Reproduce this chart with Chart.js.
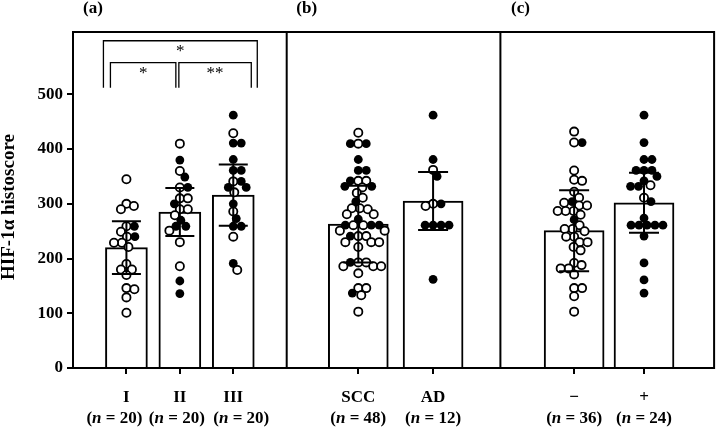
<!DOCTYPE html>
<html>
<head>
<meta charset="utf-8">
<script src="https://cdn.jsdelivr.net/npm/chart.js@4.4.1/dist/chart.umd.min.js"></script>
<style>
  html, body { margin: 0; padding: 0; background: #fff; }
  #wrap { width: 720px; height: 430px; position: relative; }
</style>
</head>
<body>
<div id="wrap"><canvas id="mycanvas"></canvas></div>
<script>
// groups: (a) stage I-III, (b) histology, (c) status
var groupLabels = ['I', 'II', 'III', 'SCC', 'AD', '\u2212', '+'];
var groupN = [20, 20, 20, 48, 12, 36, 24];
var groupPos = [0.25, 0.5, 0.75, 1.335, 1.685, 2.345, 2.672]; // one panel = 1 x unit
var panelLabels = ['(a)', '(b)', '(c)'];
var yTitle = 'HIF-1\u03b1 histoscore';

// bar = mean, whisker = SD
var means = [220, 285, 316, 263, 305, 251, 302];
var sds = [48, 44, 56, 70, 53, 74, 55];

// individual histoscores, open circles
var openValues = [
  [345, 300, 296, 290, 259, 249, 240, 229, 229, 221, 190, 180, 180, 170, 146, 144, 129, 101],
  [410, 360, 330, 310, 310, 290, 290, 279, 251, 230, 186],
  [429, 341, 321, 286, 240, 179],
  [430, 410, 342, 342, 330, 320, 311, 292, 292, 290, 281, 281, 261, 261, 251, 251, 241, 241,
   230, 230, 230, 221, 193, 193, 186, 186, 186, 173, 146, 146, 133, 103],
  [362, 300, 296],
  [432, 412, 361, 344, 342, 322, 311, 302, 297, 297, 287, 287, 287, 280, 261, 254, 254, 250,
   240, 240, 230, 230, 221, 215, 192, 188, 182, 182, 171, 146, 146, 131, 103],
  [334, 311]
];
// filled circles
var filledValues = [
  [259, 240],
  [380, 349, 330, 300, 270, 259, 259, 159, 136],
  [462, 411, 411, 381, 361, 361, 341, 330, 330, 300, 273, 259, 259, 191],
  [410, 410, 381, 361, 361, 342, 332, 332, 304, 272, 261, 261, 261, 241, 193, 137],
  [462, 381, 350, 300, 261, 261, 261, 261, 162],
  [412, 304, 271],
  [462, 412, 381, 381, 361, 361, 361, 350, 342, 332, 332, 304, 274, 261, 261, 261, 261, 261,
   241, 192, 161, 137]
];

// significance brackets in panel (a)
var brackets = [
  { from: 0, to: 2, top: 598, label: '*' },
  { from: 0, to: 1, top: 558, label: '*' },
  { from: 1, to: 2, top: 558, label: '**' }
];
var bracketFoot = 512;

var serif = '"Liberation Serif", "Times New Roman", serif';
var bracketInset = [[-23, 24], [-16, -4], [-1, 18]];
var nShift = [-12, -3, 8, 0, 0, 0, 0];

var panelPlugin = {
  id: 'panels',
  afterDatasetsDraw: function (chart) {
    var ctx = chart.ctx, a = chart.chartArea;
    var xs = chart.scales.x, ys = chart.scales.y;
    ctx.save();
    ctx.strokeStyle = '#000';
    ctx.lineWidth = 2;
    // error bars
    for (var i = 0; i < means.length; i++) {
      var x = xs.getPixelForValue(groupPos[i]);
      var half = i < 3 ? 14.5 : 15;
      var t = ys.getPixelForValue(means[i] + sds[i]);
      var b = ys.getPixelForValue(means[i] - sds[i]);
      ctx.beginPath();
      ctx.moveTo(x, t); ctx.lineTo(x, b);
      ctx.moveTo(x - half, t); ctx.lineTo(x + half, t);
      ctx.moveTo(x - half, b); ctx.lineTo(x + half, b);
      ctx.stroke();
    }
    // frame and panel dividers
    ctx.strokeRect(a.left, a.top, a.right - a.left, a.bottom - a.top);
    ctx.beginPath();
    [1, 2].forEach(function (v) {
      var px = xs.getPixelForValue(v);
      ctx.moveTo(px, a.top); ctx.lineTo(px, a.bottom);
    });
    ctx.stroke();
    // brackets
    ctx.lineWidth = 1.3;
    ctx.fillStyle = '#000';
    ctx.font = '17px ' + serif;
    ctx.textAlign = 'center';
    ctx.textBaseline = 'middle';
    brackets.forEach(function (br, k) {
      var x1 = xs.getPixelForValue(groupPos[br.from]) + bracketInset[k][0];
      var x2 = xs.getPixelForValue(groupPos[br.to]) + bracketInset[k][1];
      var yt = ys.getPixelForValue(br.top), yb = ys.getPixelForValue(bracketFoot);
      ctx.beginPath();
      ctx.moveTo(x1, yb); ctx.lineTo(x1, yt); ctx.lineTo(x2, yt); ctx.lineTo(x2, yb);
      ctx.stroke();
      ctx.fillText(br.label, (x1 + x2) / 2, yt + 11);
    });
    ctx.restore();
  },
  afterDraw: function (chart) {
    var ctx = chart.ctx, xs = chart.scales.x;
    ctx.save();
    ctx.fillStyle = '#000';
    ctx.textBaseline = 'middle';
    ctx.textAlign = 'center';
    ctx.font = 'bold 17px ' + serif;
    panelLabels.forEach(function (p, i) {
      ctx.fillText(p, xs.getPixelForValue(i) + 20, 9);
    });
    // y axis title
    ctx.save();
    ctx.translate(9, 207);
    ctx.rotate(-Math.PI / 2);
    ctx.font = 'bold 19px ' + serif;
    ctx.fillText(yTitle, 0, 0);
    ctx.restore();
    // (n = ..) row with italic n
    ctx.textAlign = 'left';
    var bold = 'bold 17px ' + serif, ital = 'italic bold 17px ' + serif;
    groupN.forEach(function (n, i) {
      var parts = [['(', bold], ['n', ital], [' = ' + n + ')', bold]];
      var w = 0;
      parts.forEach(function (p) { ctx.font = p[1]; w += ctx.measureText(p[0]).width; });
      var x = xs.getPixelForValue(groupPos[i]) + nShift[i] - w / 2;
      parts.forEach(function (p) {
        ctx.font = p[1];
        ctx.fillText(p[0], x, 419);
        x += ctx.measureText(p[0]).width;
      });
    });
    ctx.restore();
  }
};

var ctx = document.getElementById('mycanvas');

var chart = new Chart(ctx, {
  type: 'bar',
  data: {
    datasets: [
      {
        data: groupPos.slice(0, 3).map(function (x, i) { return { x: x, y: means[i] }; }),
        backgroundColor: '#fff', borderColor: '#000', borderWidth: 2,
        barThickness: 42, grouped: false, order: 3
      },
      {
        data: groupPos.slice(3).map(function (x, i) { return { x: x, y: means[i + 3] }; }),
        backgroundColor: '#fff', borderColor: '#000', borderWidth: 2,
        barThickness: 60, grouped: false, order: 3
      },
      {
        type: 'scatter', data: [],
        pointRadius: 4.1, pointBorderWidth: 1.8,
        pointBackgroundColor: '#fff', pointBorderColor: '#000', order: 2
      },
      {
        type: 'scatter', data: [],
        pointRadius: 4.4, pointBorderWidth: 0,
        pointBackgroundColor: '#000', pointBorderColor: '#000', order: 1
      }
    ]
  },
  options: {
    responsive: true,
    maintainAspectRatio: false,
    animation: false,
    layout: { padding: { top: 32, right: 3, left: 0, bottom: 0 } },
    plugins: { legend: { display: false }, tooltip: { enabled: false } },
    scales: {
      x: {
        type: 'linear', min: 0, max: 3, offset: false,
        afterBuildTicks: function (s) { s.ticks = groupPos.map(function (v) { return { value: v }; }); },
        afterFit: function (s) { s.height = 62; },
        ticks: {
          callback: function (v, i) { return groupLabels[i]; },
          font: { family: serif, size: 17, weight: 'bold' }, color: '#000',
          maxRotation: 0, autoSkip: false, padding: 13
        },
        grid: { drawOnChartArea: false, tickLength: 6, color: '#000', lineWidth: 2, offset: false },
        border: { color: '#000', width: 2 }
      },
      y: {
        min: 0, max: 614,
        afterBuildTicks: function (s) { s.ticks = s.ticks.filter(function (t) { return t.value <= 500; }); },
        afterFit: function (s) { s.width = 73; },
        ticks: {
          stepSize: 100, padding: 4,
          font: { family: serif, size: 17, weight: 'bold' }, color: '#000'
        },
        grid: { drawOnChartArea: false, tickLength: 6, color: '#000', lineWidth: 2 },
        border: { color: '#000', width: 2 }
      }
    }
  },
  plugins: [panelPlugin]
});

// spread the dots sideways (beeswarm) so they do not sit on top of each other
function spreadDots(chart) {
  var xs = chart.scales.x, ys = chart.scales.y;
  var unit = xs.getPixelForValue(1) - xs.getPixelForValue(0);
  var minDist = 7.6;
  var openData = [], filledData = [];
  for (var g = 0; g < groupPos.length; g++) {
    var pts = [];
    openValues[g].forEach(function (v) { pts.push({ v: v, open: true }); });
    filledValues[g].forEach(function (v) { pts.push({ v: v, open: false }); });
    pts.sort(function (a, b) { return b.v - a.v; });
    var placed = [];
    pts.forEach(function (p) {
      var py = ys.getPixelForValue(p.v);
      var off = 0;
      for (var k = 0; k < 400; k++) {
        off = (k % 2 ? 1 : -1) * Math.ceil(k / 2) * 0.5;
        var ok = true;
        for (var j = 0; j < placed.length; j++) {
          var dx = placed[j].x - off, dy = placed[j].y - py;
          if (dx * dx + dy * dy < minDist * minDist) { ok = false; break; }
        }
        if (ok) break;
      }
      placed.push({ x: off, y: py });
      var d = { x: groupPos[g] + off / unit, y: p.v };
      if (p.open) openData.push(d); else filledData.push(d);
    });
  }
  chart.data.datasets[2].data = openData;
  chart.data.datasets[3].data = filledData;
  chart.update('none');
}
spreadDots(chart);
</script>
</body>
</html>
